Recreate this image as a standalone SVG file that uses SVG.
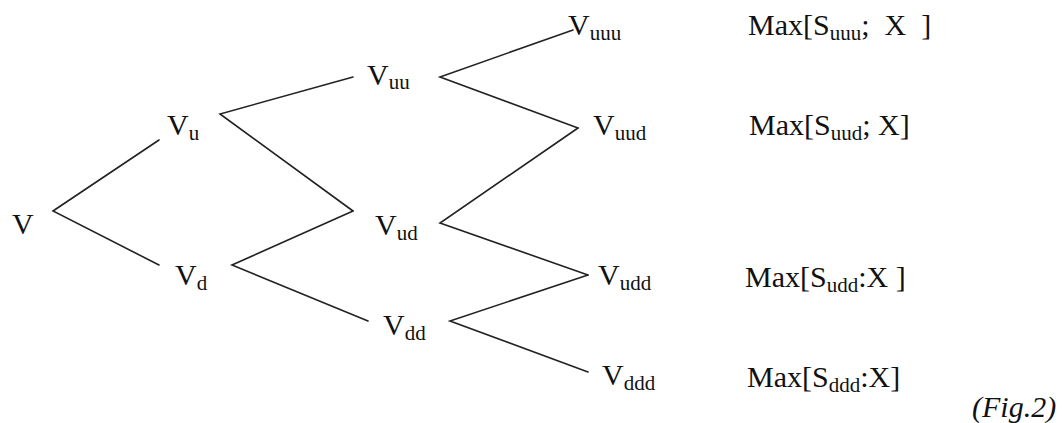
<svg xmlns="http://www.w3.org/2000/svg" width="1062" height="423" viewBox="0 0 1062 423">
  <style>
    text { font-family: "Liberation Serif", "Times New Roman", serif; font-size: 30px; fill: #111; }
    .sub { font-size: 21px; }
    .cap { font-style: italic; font-size: 30px; }
    .edge { stroke: #222; stroke-width: 1.6; fill: none; stroke-linecap: round; stroke-linejoin: miter; }
  </style>
  <rect width="1062" height="423" fill="#fff"/>

  <!-- branches of the binomial tree -->
  <g id="connectors" class="edge">
    <polyline points="159,140 53,211 159,265"/>
    <polyline points="353,77 220,114 353,211"/>
    <polyline points="353,211 232,265 368,321"/>
    <polyline points="573,30 440,77 578,128"/>
    <polyline points="578,128 440,223 588,275"/>
    <polyline points="588,275 450,321 588,372"/>
  </g>

  <g font-family="Liberation Serif, Times New Roman, serif">
    <!-- tree nodes -->
    <g id="node-V"><text x="12" y="234">V</text></g>
    <g id="node-Vu"><text x="167" y="135">V<tspan class="sub" dy="5">u</tspan></text></g>
    <g id="node-Vd"><text x="175" y="285">V<tspan class="sub" dy="5">d</tspan></text></g>
    <g id="node-Vuu"><text x="367" y="85">V<tspan class="sub" dy="4">uu</tspan></text></g>
    <g id="node-Vud"><text x="375" y="235">V<tspan class="sub" dy="5">ud</tspan></text></g>
    <g id="node-Vdd"><text x="383" y="335">V<tspan class="sub" dy="5">dd</tspan></text></g>
    <g id="node-Vuuu"><text x="568" y="35">V<tspan class="sub" dy="5">uuu</tspan></text></g>
    <g id="node-Vuud"><text x="593" y="135">V<tspan class="sub" dy="5">uud</tspan></text></g>
    <g id="node-Vudd"><text x="598" y="285">V<tspan class="sub" dy="5">udd</tspan></text></g>
    <g id="node-Vddd"><text x="602" y="385">V<tspan class="sub" dy="5">ddd</tspan></text></g>

    <!-- terminal payoffs -->
    <g id="payoff-uuu"><text x="748" y="35" xml:space="preserve">Max[S<tspan class="sub" dy="5">uuu</tspan><tspan dy="-5">;  X  ]</tspan></text></g>
    <g id="payoff-uud"><text x="749" y="135" xml:space="preserve">Max[S<tspan class="sub" dy="5">uud</tspan><tspan dy="-5">; X]</tspan></text></g>
    <g id="payoff-udd"><text x="745" y="287" xml:space="preserve">Max[S<tspan class="sub" dy="5">udd</tspan><tspan dy="-5">:X ]</tspan></text></g>
    <g id="payoff-ddd"><text x="747" y="387" xml:space="preserve">Max[S<tspan class="sub" dy="5">ddd</tspan><tspan dy="-5">:X]</tspan></text></g>

    <g id="caption"><text class="cap" x="972" y="417">(Fig.2)</text></g>
  </g>
</svg>
